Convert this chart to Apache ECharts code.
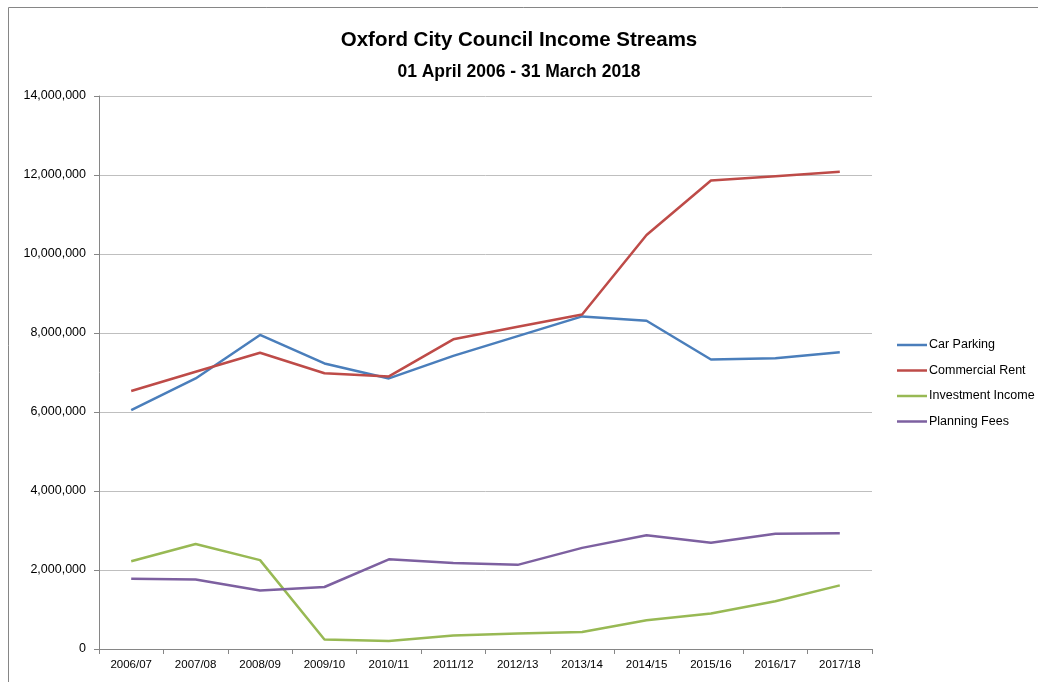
<!DOCTYPE html>
<html>
<head>
<meta charset="utf-8">
<script src="https://cdn.jsdelivr.net/npm/echarts@6/dist/echarts.min.js"></script>
<style>
  html, body { margin: 0; padding: 0; background: #fff; }
  #chart { width: 1038px; height: 682px; }
</style>
</head>
<body>
<div id="chart"></div>
<script>
const years = ['2006/07', '2007/08', '2008/09', '2009/10', '2010/11', '2011/12',
  '2012/13', '2013/14', '2014/15', '2015/16', '2016/17', '2017/18'];

const carParking = [6050000, 6850000, 7950000, 7230000, 6850000, 7420000,
  7920000, 8420000, 8310000, 7330000, 7360000, 7510000];
const commercialRent = [6530000, 7020000, 7500000, 6980000, 6900000, 7840000,
  8160000, 8470000, 10480000, 11860000, 11970000, 12080000];
const investmentIncome = [2220000, 2660000, 2250000, 240000, 200000, 340000,
  390000, 430000, 730000, 900000, 1210000, 1610000];
const planningFees = [1780000, 1760000, 1480000, 1570000, 2270000, 2180000,
  2130000, 2560000, 2880000, 2690000, 2920000, 2930000];

const font = 'Liberation Sans';

let myChart = echarts.init(document.getElementById('chart'));

function line(name, data, color) {
  return {
    name: name,
    type: 'line',
    data: data,
    symbol: 'none',
    lineStyle: { color: color, width: 2.5 },
    itemStyle: { color: color },
    animation: false
  };
}

let option = {
  backgroundColor: '#fff',
  textStyle: { fontFamily: font },
  graphic: [{
    type: 'rect',
    shape: { x: 8.5, y: 7.5, width: 1100, height: 800 },
    style: { fill: 'none', stroke: '#868686', lineWidth: 1 },
    silent: true
  }],
  title: [
    {
      text: 'Oxford City Council Income Streams',
      left: 'center', top: 25,
      textStyle: { fontFamily: font, fontSize: 20.5, fontWeight: 'bold', color: '#000' }
    },
    {
      text: '01 April 2006 - 31 March 2018',
      left: 'center', top: 58,
      textStyle: { fontFamily: font, fontSize: 17.5, fontWeight: 'bold', color: '#000' }
    }
  ],
  legend: {
    orient: 'vertical',
    left: 892, top: 333,
    icon: 'rect',
    itemWidth: 30, itemHeight: 2.5, itemGap: 11.5,
    textStyle: { fontFamily: font, fontSize: 12.5, color: '#000', padding: [0, 0, 0, -3], lineHeight: 14 },
    data: ['Car Parking', 'Commercial Rent', 'Investment Income', 'Planning Fees']
  },
  grid: { left: 99, right: 166, top: 96, bottom: 33, containLabel: false },
  xAxis: {
    type: 'category',
    data: years,
    boundaryGap: true,
    axisLine: { lineStyle: { color: '#868686', width: 1 } },
    axisTick: { show: true, length: 5, alignWithLabel: false, lineStyle: { color: '#868686' } },
    axisLabel: { fontFamily: font, fontSize: 11.5, color: '#000', margin: 10, interval: 0 }
  },
  yAxis: {
    type: 'value',
    min: 0, max: 14000000, interval: 2000000,
    axisLine: { show: true, lineStyle: { color: '#868686', width: 1 } },
    axisTick: { show: true, length: 5, lineStyle: { color: '#868686' } },
    splitLine: { lineStyle: { color: '#bfbfbf', width: 1 } },
    axisLabel: {
      fontFamily: font, fontSize: 12.5, color: '#000', margin: 13,
      formatter: v => v.toLocaleString('en-US')
    }
  },
  series: [
    line('Car Parking', carParking, '#4A7EBB'),
    line('Commercial Rent', commercialRent, '#BE4B48'),
    line('Investment Income', investmentIncome, '#98B954'),
    line('Planning Fees', planningFees, '#7D60A0')
  ]
};

option && myChart.setOption(option);
</script>
</body>
</html>
